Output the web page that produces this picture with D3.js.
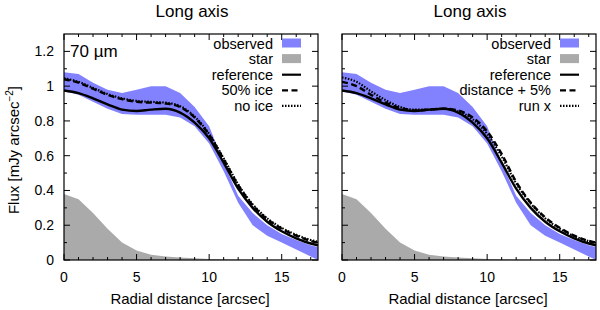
<!DOCTYPE html>
<html>
<head>
<meta charset="utf-8">
<script src="https://cdn.jsdelivr.net/npm/d3@7"></script>
<style>
  body { margin: 0; background: #fff; }
  text { font-family: "Liberation Sans", Arial, sans-serif; fill: #000; }
</style>
</head>
<body>
<div id="chart"></div>
<script>
// radial distance grid (arcsec)
const dist = [0,1,2,3,4,5,6,7,8,9,10,11,12,13,14,15,16,17,17.5];

// observed band (same in both panels)
const obsHigh = [1.08,1.07,1.02,0.98,0.96,0.98,1.0,1.0,0.96,0.88,0.77,0.56,0.37,0.27,0.20,0.15,0.115,0.085,0.075];
const obsLow  = [0.97,0.95,0.91,0.87,0.84,0.835,0.835,0.835,0.82,0.77,0.67,0.51,0.33,0.20,0.14,0.10,0.06,0.02,0.0];
// star
const star = [0.38,0.35,0.27,0.18,0.10,0.055,0.03,0.02,0.015,0.01,0.006,0.004,0.003,0.002,0.001,0.001,0.001,0.001,0.001];

// model curves
const reference = [0.975,0.96,0.93,0.895,0.865,0.857,0.865,0.87,0.848,0.79,0.70,0.56,0.41,0.30,0.22,0.165,0.125,0.095,0.085];
const ice50 = [1.04,1.02,0.985,0.95,0.925,0.91,0.905,0.90,0.88,0.82,0.72,0.58,0.43,0.315,0.235,0.18,0.14,0.11,0.10];
const noIce = [1.045,1.025,0.99,0.955,0.93,0.915,0.91,0.905,0.885,0.825,0.725,0.585,0.435,0.32,0.24,0.185,0.145,0.115,0.105];
const dist5 = [1.025,1.0,0.95,0.905,0.875,0.86,0.865,0.87,0.86,0.82,0.74,0.61,0.45,0.33,0.245,0.185,0.14,0.11,0.10];
const runX = [1.05,1.025,0.97,0.92,0.88,0.865,0.865,0.87,0.855,0.81,0.725,0.595,0.44,0.325,0.24,0.18,0.137,0.108,0.098];

const xTicks = [0,5,10,15];
const yTicks = [0,0.2,0.4,0.6,0.8,1,1.2];

const panels = [
  {left: 64, title: "Long axis", label: "70 µm", yLabels: true,
   curves: [{name: "50% ice", vals: ice50, dash: "6,3.5", w: 2.4},
            {name: "no ice", vals: noIce, dash: "1.5,1.5", w: 2.2}]},
  {left: 342, title: "Long axis", label: null, yLabels: false,
   curves: [{name: "distance + 5%", vals: dist5, dash: "6,3.5", w: 2.4},
            {name: "run x", vals: runX, dash: "1.5,1.5", w: 2.2}]}
];

const W = 600, H = 310;
const pw = 254, plotTop = 34, plotBottom = 260;
const blue = "#8282ff", grey = "#aaaaaa";

const svg = d3.select("#chart").append("svg")
  .attr("width", W).attr("height", H);

const y = d3.scaleLinear().domain([0, 1.3]).range([plotBottom, plotTop]);

panels.forEach(function(p, pi) {
  const x = d3.scaleLinear().domain([0, 17.5]).range([p.left, p.left + pw]);
  const g = svg.append("g");

  g.append("clipPath").attr("id", "clip" + pi)
    .append("rect").attr("x", p.left).attr("y", plotTop).attr("width", pw).attr("height", plotBottom - plotTop);
  const plot = g.append("g").attr("clip-path", "url(#clip" + pi + ")");

  const band = d3.area()
    .x(function(d, i) { return x(dist[i]); })
    .y0(function(d, i) { return y(obsLow[i]); })
    .y1(function(d, i) { return y(obsHigh[i]); });
  plot.append("path").datum(dist).attr("d", band).attr("fill", blue);

  const starArea = d3.area()
    .x(function(d, i) { return x(dist[i]); })
    .y0(y(0))
    .y1(function(d) { return y(d); });
  plot.append("path").datum(star).attr("d", starArea).attr("fill", grey);

  const line = d3.line()
    .x(function(d, i) { return x(dist[i]); })
    .y(function(d) { return y(d); })
    .curve(d3.curveMonotoneX);

  plot.append("path").datum(reference).attr("d", line)
    .attr("fill", "none").attr("stroke", "#000").attr("stroke-width", 2.4);
  p.curves.forEach(function(c) {
    plot.append("path").datum(c.vals).attr("d", line)
      .attr("fill", "none").attr("stroke", "#000")
      .attr("stroke-width", c.w).attr("stroke-dasharray", c.dash);
  });

  // ticks on all four sides, pointing inward
  const xMinor = d3.range(1, 18).filter(function(v) { return v % 5 != 0; });
  const yMinor = d3.range(1, 13).map(function(v) { return v / 10; }).filter(function(v) { return Math.round(v * 10) % 2 != 0; });
  const ticks = g.append("g").attr("stroke", "#000").attr("stroke-width", 1);
  xTicks.concat(xMinor).forEach(function(v) {
    const len = xTicks.indexOf(v) >= 0 ? 6 : 3;
    ticks.append("line").attr("x1", x(v)).attr("x2", x(v)).attr("y1", plotBottom).attr("y2", plotBottom - len);
    ticks.append("line").attr("x1", x(v)).attr("x2", x(v)).attr("y1", plotTop).attr("y2", plotTop + len);
  });
  yTicks.concat(yMinor).forEach(function(v) {
    const len = yTicks.indexOf(v) >= 0 ? 6 : 3;
    ticks.append("line").attr("x1", p.left).attr("x2", p.left + len).attr("y1", y(v)).attr("y2", y(v));
    ticks.append("line").attr("x1", p.left + pw).attr("x2", p.left + pw - len).attr("y1", y(v)).attr("y2", y(v));
  });

  g.append("rect").attr("x", p.left).attr("y", plotTop).attr("width", pw).attr("height", plotBottom - plotTop)
    .attr("fill", "none").attr("stroke", "#000").attr("stroke-width", 1.2);

  xTicks.forEach(function(v) {
    g.append("text").attr("x", x(v)).attr("y", 282).attr("text-anchor", "middle")
      .attr("font-size", 14).text(v);
  });
  if (p.yLabels) {
    yTicks.forEach(function(v) {
      g.append("text").attr("x", p.left - 10).attr("y", y(v) + 5).attr("text-anchor", "end")
        .attr("font-size", 14).text(v);
    });
  }

  g.append("text").attr("x", p.left + pw / 2 - 1).attr("y", 304).attr("text-anchor", "middle")
    .attr("font-size", 15).text("Radial distance [arcsec]");
  g.append("text").attr("x", p.left + pw / 2 + 1).attr("y", 17).attr("text-anchor", "middle")
    .attr("font-size", 17).text(p.title);
  if (p.label) {
    g.append("text").attr("x", p.left + 6).attr("y", 57).attr("font-size", 17).text(p.label);
  }

  // legend
  const sx0 = p.left + pw - 36, sx1 = p.left + pw - 17;
  const rows = [
    {name: "observed", type: "fill", color: blue},
    {name: "star", type: "fill", color: grey},
    {name: "reference", type: "line", dash: null},
    {name: p.curves[0].name, type: "line", dash: p.curves[0].dash},
    {name: p.curves[1].name, type: "line", dash: p.curves[1].dash}
  ];
  rows.forEach(function(r, i) {
    const ry = 43.5 + i * 15.6;
    g.append("text").attr("x", sx0 - 9).attr("y", ry + 5).attr("text-anchor", "end")
      .attr("font-size", 14.5).text(r.name);
    if (r.type == "fill") {
      g.append("rect").attr("x", sx0).attr("y", ry - 5).attr("width", sx1 - sx0).attr("height", 9)
        .attr("fill", r.color);
    } else {
      g.append("line").attr("x1", sx0).attr("x2", sx1).attr("y1", ry).attr("y2", ry)
        .attr("stroke", "#000").attr("stroke-width", 2.2)
        .attr("stroke-dasharray", r.dash);
    }
  });
});

svg.append("text")
  .attr("transform", "translate(19,150) rotate(-90)")
  .attr("text-anchor", "middle").attr("font-size", 15)
  .html('Flux [mJy arcsec<tspan dy="-6" font-size="10">−2</tspan><tspan dy="6">]</tspan>');
</script>
</body>
</html>
